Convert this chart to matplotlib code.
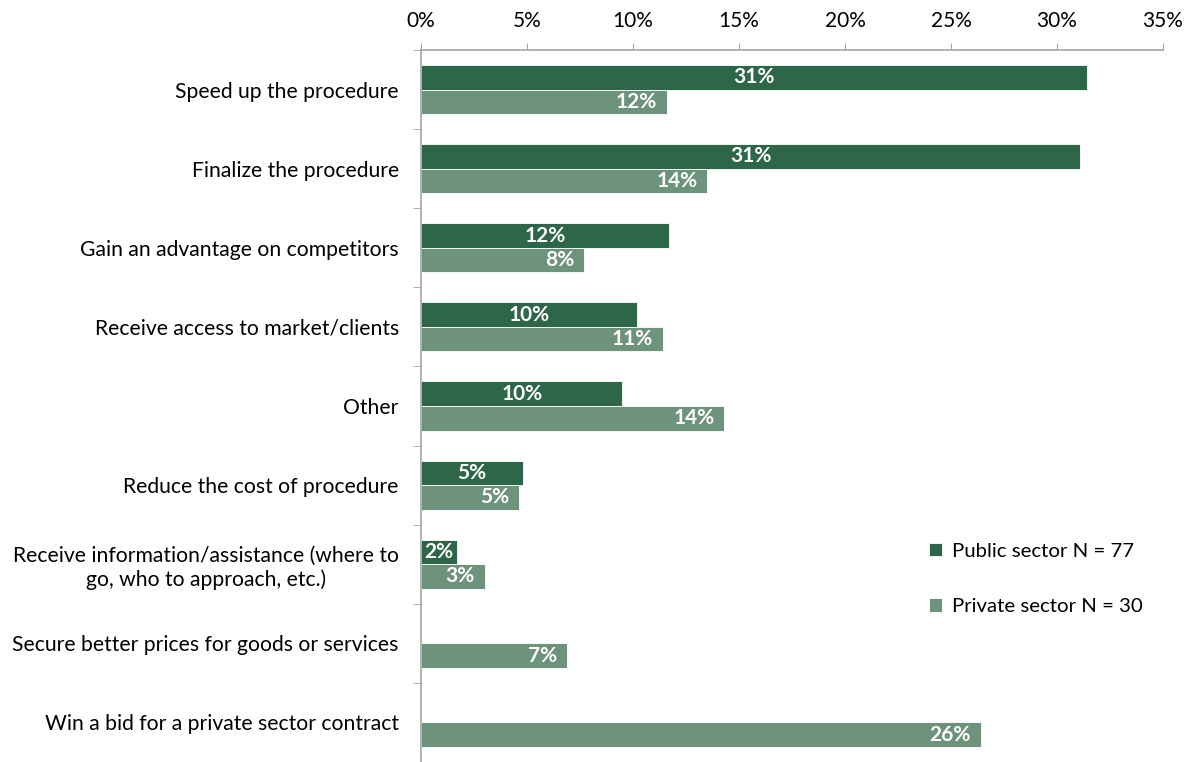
#!/usr/bin/env python3
"""
Horizontal grouped bars: reasons for giving bribes, public vs private sector.
"""

import matplotlib
matplotlib.use("Agg")
import matplotlib.pyplot as plt
import numpy as np
from matplotlib.ticker import FixedLocator, PercentFormatter

categories = [
    "Speed up the procedure",
    "Finalize the procedure",
    "Gain an advantage on competitors",
    "Receive access to market/clients",
    "Other",
    "Reduce the cost of procedure",
    "Receive information/assistance (where to\ngo, who to approach, etc.)",
    "Secure better prices for goods or services",
    "Win a bid for a private sector contract",
]
public = [31.4, 31.1, 11.7, 10.2, 9.5, 4.8, 1.7, None, None]
private = [11.6, 13.5, 7.7, 11.4, 14.3, 4.6, 3.0, 6.9, 26.4]

public_label = "Public sector N = 77"
private_label = "Private sector N = 30"

PUBLIC_COLOR = "#2e6649"
PRIVATE_COLOR = "#6e937d"
AXIS_GREY = "#a6a6a6"

plt.rcParams["font.family"] = ["Lato", "DejaVu Sans"]

fig = plt.figure(figsize=(11.98, 7.62), dpi=100)
ax = fig.add_axes([0.3514, 0.0, 0.6194, 0.9344])

n = len(categories)
y = np.arange(n)
h = 0.31


def draw_series(values, offset, color, label, centered):
    ys = [yy + offset for yy, v in zip(y, values) if v is not None]
    vs = [v for v in values if v is not None]
    bars = ax.barh(ys, vs, height=h, color=color, label=label,
                   edgecolor="white", linewidth=0.6)
    for bar, v in zip(bars, vs):
        yc = bar.get_y() + bar.get_height() / 2
        if centered:
            ax.annotate(f"{v:.0f}%", xy=(bar.get_width() / 2, yc),
                        ha="center", va="center", color="white",
                        fontsize=15, fontweight="bold")
        else:
            ax.annotate(f"{v:.0f}%", xy=(bar.get_width(), yc),
                        xytext=(-7, 0), textcoords="offset points",
                        ha="right", va="center", color="white",
                        fontsize=15, fontweight="bold")
    return bars


draw_series(public, -h / 2, PUBLIC_COLOR, public_label, centered=True)
draw_series(private, h / 2, PRIVATE_COLOR, private_label, centered=False)

ax.set_xlim(0, 35)
ax.set_ylim(n - 0.5, -0.5)

# value axis on top
ax.xaxis.tick_top()
ax.set_xticks(np.arange(0, 36, 5))
ax.xaxis.set_major_formatter(PercentFormatter(decimals=0))
ax.tick_params(axis="x", which="major", length=5, color=AXIS_GREY,
               labelsize=15, pad=9)

# category labels, with tick marks between the groups
ax.set_yticks(y)
ax.set_yticklabels(categories, fontsize=15.2)
ax.yaxis.set_minor_locator(FixedLocator(np.arange(-0.5, n, 1.0)))
ax.tick_params(axis="y", which="major", length=0, pad=16)
ax.tick_params(axis="y", which="minor", length=6, color=AXIS_GREY)
for lab in ax.get_yticklabels():
    lab.set_multialignment("center")

for side in ("right", "bottom"):
    ax.spines[side].set_visible(False)
for side in ("top", "left"):
    ax.spines[side].set_color(AXIS_GREY)
    ax.spines[side].set_linewidth(1.2)

ax.legend(loc="upper left", bbox_to_anchor=(0.66, 0.334), frameon=False,
          fontsize=14.7, handlelength=0.65, handleheight=0.65,
          handletextpad=0.45, labelspacing=1.9)

fig.savefig("out.png", dpi=100)
